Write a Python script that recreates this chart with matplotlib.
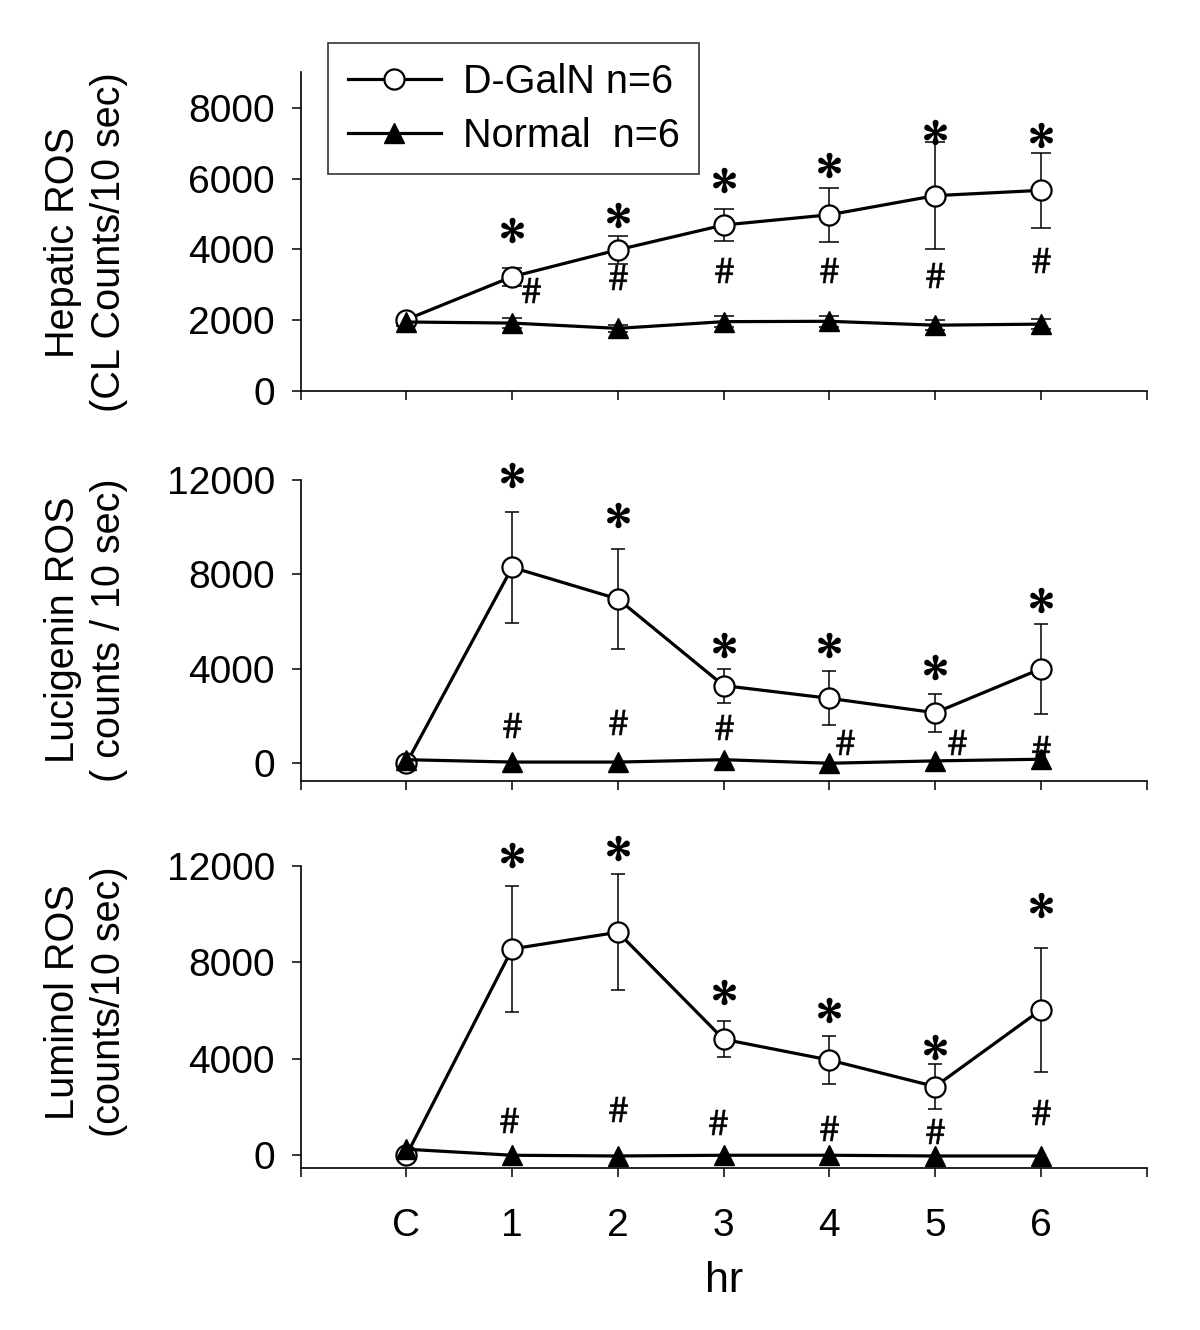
import numpy as np
import matplotlib
matplotlib.use('Agg')
import matplotlib.pyplot as plt

plt.rcParams['font.family'] = ['Liberation Sans', 'DejaVu Sans']
plt.rcParams['mathtext.fontset'] = 'stix'

# x categories
hours = [0, 1, 2, 3, 4, 5, 6]
hour_labels = ['C', '1', '2', '3', '4', '5', '6']

# hepatic ROS (CL counts / 10 sec)
hep_galn = [2020, 3230, 3990, 4690, 4980, 5520, 5670]
hep_galn_se = [0, 250, 400, 460, 770, 1520, 1050]
hep_norm = [1950, 1920, 1770, 1960, 1970, 1860, 1890]
hep_norm_se = [100, 150, 100, 150, 150, 150, 150]
hep_star = [None, 4550, 4980, 5970, 6390, 7330, 7240]
hep_hash = [None, 2860, 3230, 3420, 3420, 3280, 3710]
hep_hash_dx = [0, 0.18, 0, 0, 0, 0, 0]

# lucigenin ROS
luc_galn = [0, 8300, 6960, 3290, 2750, 2140, 4000]
luc_galn_se = [0, 2350, 2120, 720, 1150, 800, 1900]
luc_norm = [150, 50, 50, 150, 0, 100, 170]
luc_norm_se = [0, 0, 0, 0, 0, 0, 0]
luc_star = [None, 12200, 10500, 5010, 5010, 4090, 6920]
luc_hash = [None, 1620, 1760, 1550, 920, 920, 650]
luc_hash_dx = [0, 0, 0, 0, 0.15, 0.21, 0]

# luminol ROS
lum_galn = [0, 8560, 9250, 4810, 3950, 2850, 6030]
lum_galn_se = [0, 2600, 2400, 750, 980, 920, 2560]
lum_norm = [250, 0, -30, 0, 0, -30, -30]
lum_norm_se = [0, 0, 0, 0, 0, 0, 0]
lum_star = [None, 12460, 12740, 6790, 6030, 4510, 10390]
lum_hash = [None, 1470, 1910, 1390, 1120, 1020, 1810]
lum_hash_dx = [0, -0.03, 0, -0.05, 0, 0, 0]

ylabels = ['Hepatic ROS\n(CL Counts/10 sec)',
           'Lucigenin ROS\n( counts / 10 sec)',
           'Luminol ROS\n(counts/10 sec)']

fig = plt.figure(figsize=(12, 13.3), dpi=100)

# axes boxes in figure fraction (left, bottom, width, height)
boxes = [[0.2506, 0.7060, 0.7049, 0.2395],
         [0.2506, 0.4130, 0.7049, 0.2261],
         [0.2506, 0.1216, 0.7049, 0.2273]]
ylims = [(0, 9000), (-740, 12000), (-540, 12000)]
yticks = [np.arange(0, 8001, 2000), np.arange(0, 12001, 4000), np.arange(0, 12001, 4000)]
label_y = [1 - 242 / 1330, 1 - 630 / 1330, 1 - 1002 / 1330]
caps = [7, 5, 5]

panels = [
    (hep_galn, hep_galn_se, hep_norm, hep_norm_se, hep_star, hep_hash, hep_hash_dx),
    (luc_galn, luc_galn_se, luc_norm, luc_norm_se, luc_star, luc_hash, luc_hash_dx),
    (lum_galn, lum_galn_se, lum_norm, lum_norm_se, lum_star, lum_hash, lum_hash_dx),
]

axes = []
for i, (galn, galn_se, norm, norm_se, star, hsh, hdx) in enumerate(panels):
    ax = fig.add_axes(boxes[i])
    axes.append(ax)

    ax.errorbar(hours, galn, yerr=galn_se, fmt='none', ecolor='k',
                elinewidth=1.1, capsize=caps[i], capthick=1.1, zorder=2)
    if any(norm_se):
        ax.errorbar(hours, norm, yerr=norm_se, fmt='none', ecolor='k',
                    elinewidth=1.1, capsize=caps[i], capthick=1.1, zorder=2)

    # significance marks
    sx = [h for h, s in zip(hours, star) if s is not None]
    sy = [s for s in star if s is not None]
    ax.plot(sx, sy, ls='none', marker='$*$', ms=17, color='k', mec='k',
            mew=1.3, clip_on=False, zorder=3)
    hx = [h + d for h, d, s in zip(hours, hdx, hsh) if s is not None]
    hy = [s for s in hsh if s is not None]
    ax.plot(hx, hy, ls='none', marker='$\\#$', ms=18, color='k', mec='k',
            mew=0.4, clip_on=False, zorder=3)

    l1, = ax.plot(hours, galn, '-', color='k', lw=2.3, marker='o', ms=14.5,
                  mfc='white', mec='k', mew=1.6, zorder=4, label='D-GalN n=6')
    l2, = ax.plot(hours, norm, '-', color='k', lw=2.3, marker='^', ms=15,
                  mfc='k', mec='k', zorder=5, label='Normal  n=6')

    ax.set_xlim(-1, 7)
    ax.set_ylim(*ylims[i])
    ax.set_yticks(yticks[i])
    ax.set_xticks(range(-1, 8))
    if i == 2:
        ax.set_xticklabels([''] + hour_labels + [''])
    else:
        ax.set_xticklabels([])
    for side in ['top', 'right']:
        ax.spines[side].set_visible(False)
    for side in ['left', 'bottom']:
        ax.spines[side].set_linewidth(1.2)
    ax.tick_params(direction='out', length=6.5, width=1.1, labelsize=28)
    ax.tick_params(axis='y', pad=12)
    ax.tick_params(axis='x', pad=22)
    ax.patch.set_alpha(0)

    fig.text(86 / 1200, label_y[i], ylabels[i], rotation=90, fontsize=28.5,
             ha='center', va='center', multialignment='center', linespacing=1.3)

    if i == 0:
        leg = ax.legend(handles=[l1, l2], loc='upper left',
                        bbox_to_anchor=(328 / 1200, 1 - 43 / 1330),
                        bbox_transform=fig.transFigure, fontsize=28.5,
                        frameon=True, fancybox=False, borderpad=0.5,
                        handlelength=2.35, handletextpad=0.55, labelspacing=0.4,
                        borderaxespad=0)
        leg.get_frame().set_edgecolor('k')
        leg.get_frame().set_linewidth(1.2)

axes[2].set_xlabel('hr', fontsize=31, labelpad=12)

fig.savefig('out.png', dpi=100, facecolor='white')
